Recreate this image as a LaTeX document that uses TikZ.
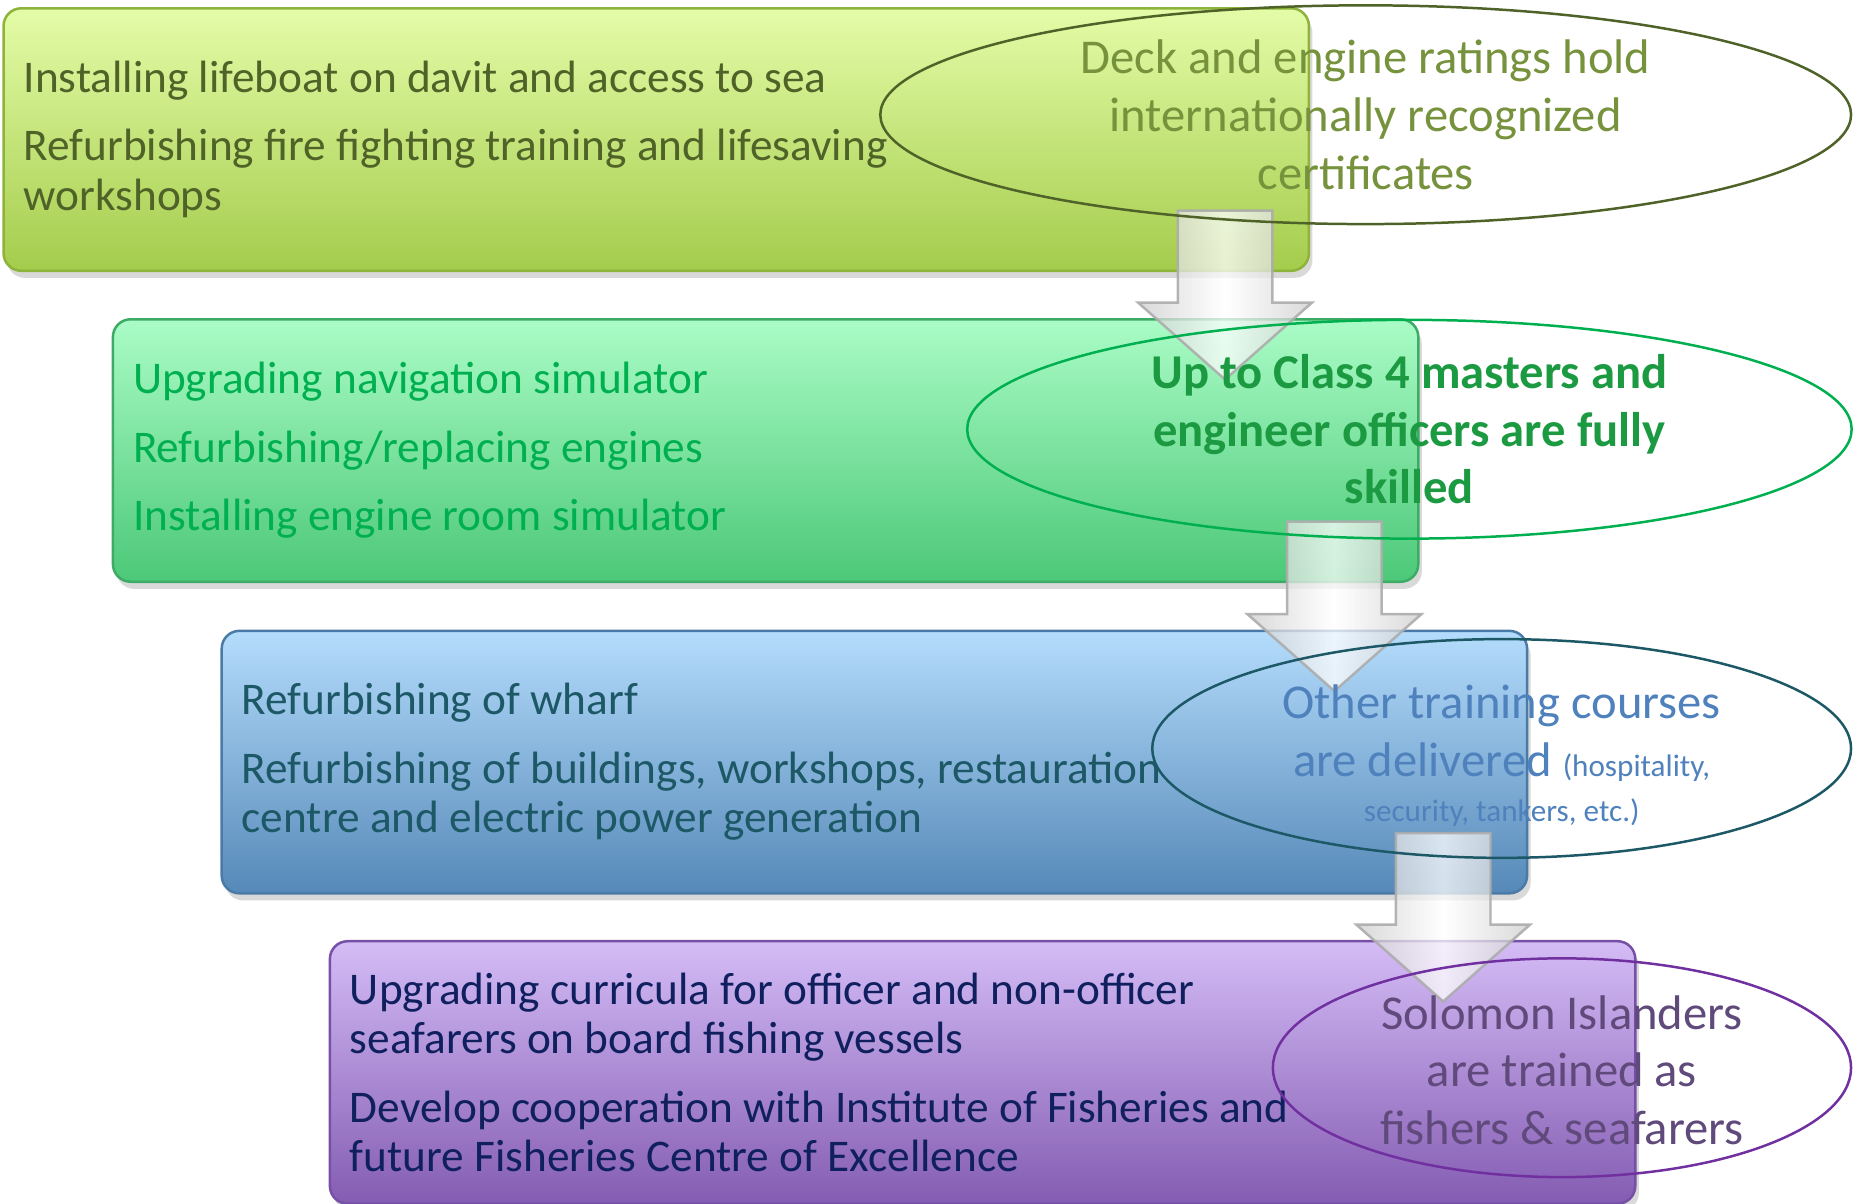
\documentclass[tikz,border=0pt]{standalone}
\usepackage{fontspec}
\setmainfont{Carlito}
\usetikzlibrary{calc,shapes.geometric,shadows}

\definecolor{limetop}{HTML}{E4FCA8}
\definecolor{limebot}{HTML}{A4CC4C}
\definecolor{limeedge}{HTML}{8DB33A}
\definecolor{limetext}{HTML}{4F6228}
\definecolor{minttop}{HTML}{AAFCC6}
\definecolor{mintbot}{HTML}{4CC878}
\definecolor{mintedge}{HTML}{3DAA66}
\definecolor{minttext}{HTML}{00B050}
\definecolor{skytop}{HTML}{B4DCFC}
\definecolor{skybot}{HTML}{5689B8}
\definecolor{skyedge}{HTML}{4A7BA6}
\definecolor{skytext}{HTML}{1D5866}
\definecolor{liltop}{HTML}{D4BCF6}
\definecolor{lilbot}{HTML}{845CB2}
\definecolor{liledge}{HTML}{7650A6}
\definecolor{liltext}{HTML}{10205E}
\definecolor{outolive}{HTML}{76923C}
\definecolor{outgreen}{HTML}{1C9A42}
\definecolor{outblue}{HTML}{4F81BD}
\definecolor{outplum}{HTML}{604A7B}
\definecolor{ringplum}{HTML}{7030A0}

\tikzstyle{act}=[rectangle, rounded corners=0.15cm, line width=0.6pt, minimum width=11.04cm, minimum height=2.22cm, text width=10.70cm, inner xsep=0.17cm, align=flush left, font=\fontsize{10.9}{11.95}\selectfont, drop shadow={opacity=0.3,shadow xshift=0.03cm,shadow yshift=-0.06cm}]
\tikzstyle{outcome}=[ellipse, draw, line width=0.6pt, minimum height=1.85cm]
\tikzstyle{outtext}=[align=center, font=\fontsize{11.7}{13.9}\selectfont]
\tikzstyle{blockarrow}=[draw=gray!65, line width=0.6pt, left color=gray!40, right color=gray!40, middle color=white, fill opacity=0.75, draw opacity=0.9]

\begin{document}
\begin{tikzpicture}
    \useasboundingbox (0,0) rectangle (15.68,-10.18);
    % activity boxes
    \node[act, draw=limeedge, top color=limetop, bottom color=limebot, text=limetext] (act1) at (5.55,-1.18)
      {Installing lifeboat on davit and access to sea\\[4.5pt]
       Refurbishing fire fighting training and lifesaving\\
       workshops};
    \node[act, draw=mintedge, top color=minttop, bottom color=mintbot, text=minttext] (act2) at (6.475,-3.81)
      {Upgrading navigation simulator\\[4.5pt]
       Refurbishing/replacing engines\\[4.5pt]
       Installing engine room simulator};
    \node[act, draw=skyedge, top color=skytop, bottom color=skybot, text=skytext] (act3) at (7.395,-6.445)
      {Refurbishing of wharf\\[4.5pt]
       Refurbishing of buildings, workshops, restauration\\
       centre and electric power generation};
    \node[act, draw=liledge, top color=liltop, bottom color=lilbot, text=liltext] (act4) at (8.31,-9.07)
      {Upgrading curricula for officer and non-officer\\
       seafarers on board fishing vessels\\[4.5pt]
       Develop cooperation with Institute of Fisheries and\\
       future Fisheries Centre of Excellence};

    % arrows from box to box
    \coordinate (a1s) at ($(act1.south east)+(-0.72,0.52)$);
    \coordinate (a1e) at ($(a1s |- act2.north)+(0,-0.52)$);
    \coordinate (a2s) at ($(act2.south east)+(-0.72,0.52)$);
    \coordinate (a2e) at ($(a2s |- act3.north)+(0,-0.52)$);
    \coordinate (a3s) at ($(act3.south east)+(-0.72,0.52)$);
    \coordinate (a3e) at ($(a3s |- act4.north)+(0,-0.52)$);
    \draw[blockarrow] ($(a1s)+(-0.4,0)$) -- ($(a1s)+(0.4,0)$) -- ($(a1e)+(0.4,0.65)$) -- ($(a1e)+(0.735,0.65)$)
      -- (a1e) -- ($(a1e)+(-0.735,0.65)$) -- ($(a1e)+(-0.4,0.65)$) -- cycle;
    \draw[blockarrow] ($(a2s)+(-0.4,0)$) -- ($(a2s)+(0.4,0)$) -- ($(a2e)+(0.4,0.65)$) -- ($(a2e)+(0.735,0.65)$)
      -- (a2e) -- ($(a2e)+(-0.735,0.65)$) -- ($(a2e)+(-0.4,0.65)$) -- cycle;
    \draw[blockarrow] ($(a3s)+(-0.4,0)$) -- ($(a3s)+(0.4,0)$) -- ($(a3e)+(0.4,0.65)$) -- ($(a3e)+(0.735,0.65)$)
      -- (a3e) -- ($(a3e)+(-0.735,0.65)$) -- ($(a3e)+(-0.4,0.65)$) -- cycle;

    % outcomes
    \node[outcome, draw=limetext, minimum width=8.21cm] (out1) at (11.55,-0.97) {};
    \node[outcome, draw=minttext, minimum width=7.48cm] (out2) at (11.92,-3.63) {};
    \node[outcome, draw=skytext, minimum width=5.91cm] (out3) at (12.70,-6.33) {};
    \node[outcome, draw=ringplum, minimum width=4.89cm] (out4) at (13.21,-9.03) {};
    \node[outtext, text=outolive] (txt1) at (out1) {Deck and engine ratings hold\\internationally recognized\\certificates};
    \node[outtext, text=outgreen, font=\fontsize{11.7}{13.9}\selectfont\bfseries] (txt2) at (out2) {Up to Class 4 masters and\\engineer officers are fully\\skilled};
    \node[outtext, text=outblue] (txt3) at ($(out3)+(0,-0.06)$) {Other training courses\\are delivered {\fontsize{7.5}{9}\selectfont (hospitality,}\\[-3pt]{\fontsize{7.5}{9}\selectfont security, tankers, etc.)}};
    \node[outtext, text=outplum] (txt4) at ($(out4)+(0,-0.02)$) {Solomon Islanders\\are trained as\\fishers \& seafarers};
\end{tikzpicture}
\end{document}
